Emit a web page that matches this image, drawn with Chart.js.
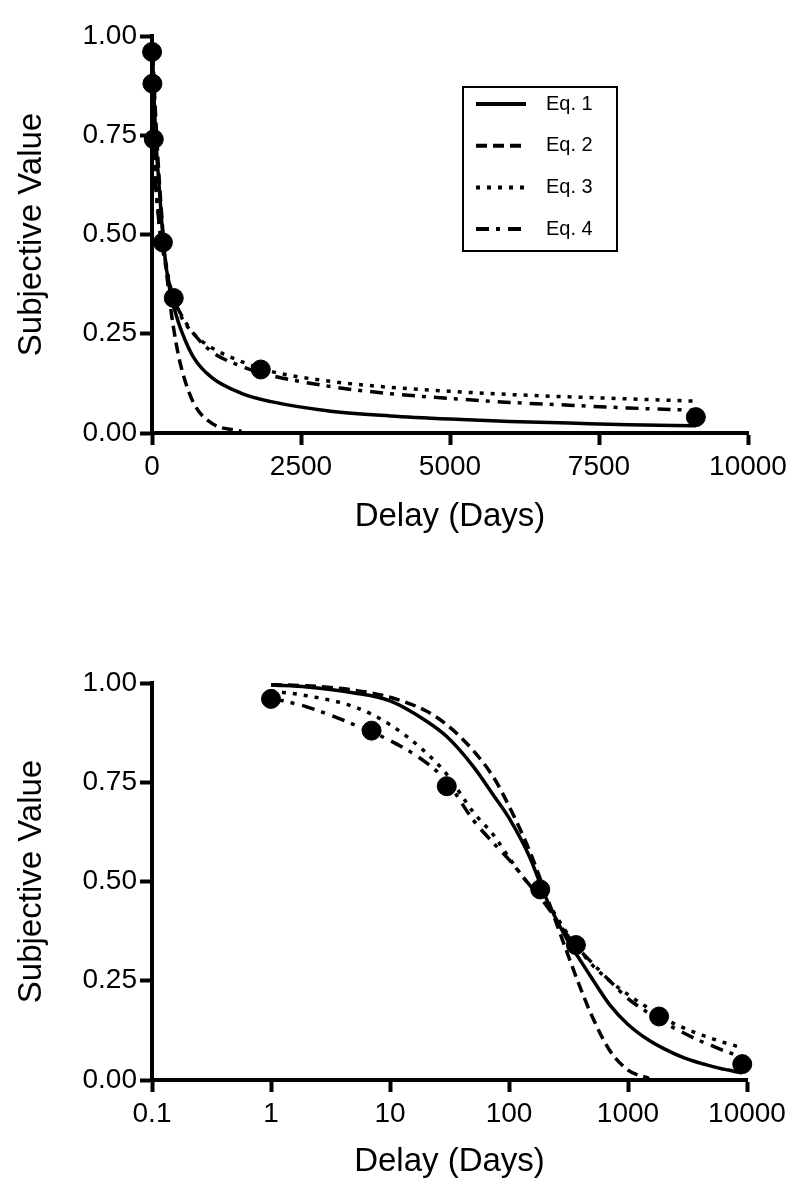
<!DOCTYPE html>
<html>
<head>
<meta charset="utf-8">
<script src="https://cdn.jsdelivr.net/npm/chart.js@4.4.1/dist/chart.umd.min.js"></script>
<style>
    html, body { margin: 0; padding: 0; background: #fff; }
    .panel { position: absolute; left: 0; width: 800px; }
    #top { top: 0; height: 600px; }
    #bottom { top: 600px; height: 597px; }
</style>
</head>
<body>
<div class="panel" id="top"><canvas id="linearChart"></canvas></div>
<div class="panel" id="bottom"><canvas id="logChart"></canvas></div>
<script>
'use strict';

// observed indifference points
const delays = [1, 7, 30, 183, 365, 1825, 9125];
const observed = [0.96, 0.88, 0.74, 0.48, 0.34, 0.16, 0.04];

// fitted curves, values at these delays
const curveDays = [1, 2, 5, 10, 20, 30, 50, 75, 100, 150, 200, 300, 400, 500, 700,
    1000, 1500, 2000, 3000, 4000, 5000, 6000, 7000, 8000, 9125];
const eq1 = [0.995, 0.99, 0.975, 0.955, 0.905, 0.865, 0.79, 0.715, 0.66, 0.56, 0.465, 0.36, 0.30, 0.255, 0.19,
    0.14, 0.10, 0.079, 0.055, 0.043, 0.035, 0.029, 0.025, 0.021, 0.018];
const eq2 = [0.996, 0.993, 0.982, 0.964, 0.93, 0.895, 0.83, 0.76, 0.69, 0.575, 0.475, 0.33, 0.23, 0.16, 0.075,
    0.025, 0.004, null, null, null, null, null, null, null, null];
const eq3 = [0.98, 0.968, 0.94, 0.895, 0.825, 0.77, 0.675, 0.615, 0.56, 0.49, 0.455, 0.375, 0.325, 0.29, 0.25,
    0.215, 0.18, 0.155, 0.13, 0.115, 0.105, 0.097, 0.091, 0.086, 0.08];
const eq4 = [0.962, 0.94, 0.895, 0.855, 0.80, 0.752, 0.655, 0.595, 0.555, 0.49, 0.445, 0.37, 0.325, 0.295, 0.25,
    0.205, 0.168, 0.145, 0.117, 0.099, 0.087, 0.077, 0.07, 0.063, 0.057];
const eqLabels = ['Eq. 1', 'Eq. 2', 'Eq. 3', 'Eq. 4'];

const yTicks = [0, 0.25, 0.5, 0.75, 1];
const linearTicks = [0, 2500, 5000, 7500, 10000];
const logTicks = [0.1, 1, 10, 100, 1000, 10000];

const FONT = "'Liberation Sans', Arial, sans-serif";
const dashes = [[], [11, 6], [4, 7], [13, 7, 4, 8]];

function points(ys) {
    const out = [];
    curveDays.forEach((d, i) => { if (ys[i] !== null) out.push({x: d, y: ys[i]}); });
    return out;
}

function makeDatasets() {
    const sets = [{
        label: 'Data',
        data: delays.map((d, i) => ({x: d, y: observed[i]})),
        showLine: false,
        pointRadius: 9.5,
        pointBackgroundColor: '#000',
        pointBorderColor: '#000',
        pointBorderWidth: 1,
        clip: false
    }];
    [eq1, eq2, eq3, eq4].forEach((ys, i) => {
        sets.push({
            label: eqLabels[i],
            data: points(ys),
            borderColor: '#000',
            borderWidth: 3.5,
            borderDash: dashes[i],
            pointRadius: 0,
            cubicInterpolationMode: 'monotone',
            fill: false
        });
    });
    return sets;
}

function yAxis() {
    return {
        type: 'linear', min: 0, max: 1,
        afterBuildTicks: s => { s.ticks = yTicks.map(v => ({value: v})); },
        afterFit: s => { s.width = 152; },
        ticks: {callback: v => Number(v).toFixed(2), color: '#000', font: {family: FONT, size: 28}, padding: 3},
        grid: {drawOnChartArea: false, color: '#000', tickLength: 12, tickWidth: 4},
        border: {color: '#000', width: 4},
        title: {display: true, text: 'Subjective Value', color: '#000',
            font: {family: FONT, size: 33}, padding: {top: 12, bottom: 0}}
    };
}

function xAxis(type, min, max, ticks, height, titlePad) {
    return {
        type: type, min: min, max: max,
        afterBuildTicks: s => { s.ticks = ticks.map(v => ({value: v})); },
        afterFit: s => { s.height = height; },
        ticks: {callback: v => String(v), color: '#000', font: {family: FONT, size: 28},
            padding: 5, maxRotation: 0, autoSkip: false},
        grid: {drawOnChartArea: false, color: '#000', tickLength: 12, tickWidth: 4},
        border: {color: '#000', width: 4},
        title: {display: true, text: 'Delay (Days)', color: '#000',
            font: {family: FONT, size: 33}, padding: {top: 0, bottom: titlePad}}
    };
}

// legend box drawn inside the upper panel
const boxLegend = {
    id: 'boxLegend',
    afterDraw(chart) {
        const ctx = chart.ctx;
        const a = chart.chartArea;
        const x0 = a.left + 311, y0 = a.top + 51;
        ctx.save();
        ctx.strokeStyle = '#000';
        ctx.fillStyle = '#000';
        ctx.lineWidth = 2;
        ctx.setLineDash([]);
        ctx.strokeRect(x0, y0, 154, 164);
        ctx.font = '20px ' + FONT;
        ctx.textBaseline = 'middle';
        chart.data.datasets.slice(1).forEach((ds, i) => {
            const y = y0 + 17 + i * 41.7;
            ctx.beginPath();
            ctx.lineWidth = 4;
            ctx.setLineDash(ds.borderDash);
            ctx.moveTo(x0 + 13, y);
            ctx.lineTo(x0 + 63, y);
            ctx.stroke();
            ctx.fillText(ds.label, x0 + 83, y);
        });
        ctx.restore();
    }
};

function baseOptions(padTop, padRight) {
    return {
        responsive: true,
        maintainAspectRatio: false,
        animation: false,
        devicePixelRatio: 1,
        layout: {padding: {left: 0, top: padTop, right: padRight, bottom: 0}},
        plugins: {legend: {display: false}, tooltip: {enabled: false}}
    };
}

const topOpts = baseOptions(36, 52);
topOpts.scales = {x: xAxis('linear', 0, 10000, linearTicks, 167, 63), y: yAxis()};
new Chart('linearChart', {
    type: 'line',
    data: {datasets: makeDatasets()},
    options: topOpts,
    plugins: [boxLegend]
});

const bottomOpts = baseOptions(83, 53);
bottomOpts.scales = {x: xAxis('logarithmic', 0.1, 10000, logTicks, 117, 15), y: yAxis()};
new Chart('logChart', {
    type: 'line',
    data: {datasets: makeDatasets()},
    options: bottomOpts
});
</script>
</body>
</html>
